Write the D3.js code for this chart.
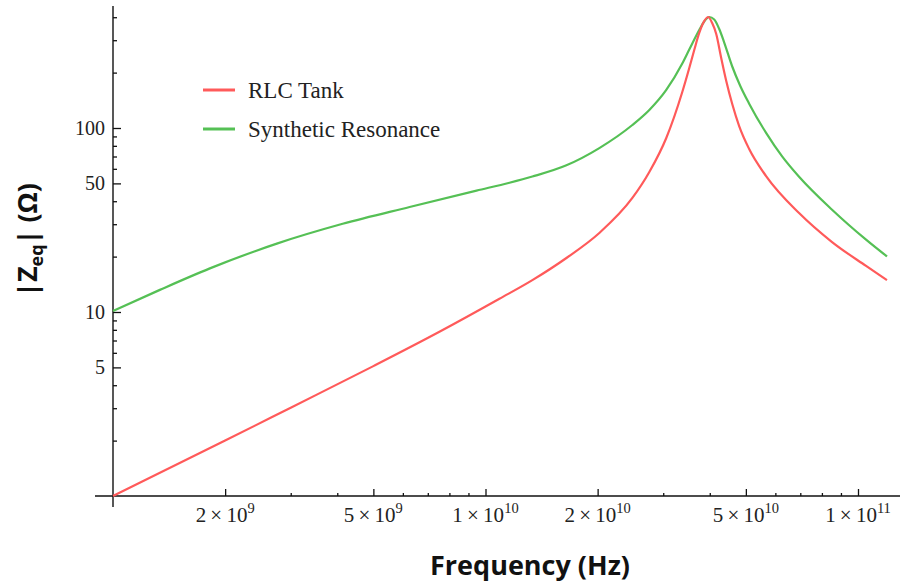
<!DOCTYPE html>
<html><head><meta charset="utf-8">
<script src="https://cdn.jsdelivr.net/npm/d3@7/dist/d3.min.js"></script>
<style>body{margin:0;background:#fff} svg{display:block}</style>
</head><body>
<svg id="c" width="902" height="584"></svg>
<script>
// ---- data (frequency in Hz, |Zeq| in ohms) ----
const freqRLC = [1.0e9,2.0e9,3.0e9,5.0e9,7.5e9,10.9e9,13.36e9,16.49e9,20.21e9,24.79e9,27.53e9,30.57e9,33.75e9,35.24e9,36.34e9,37.48e9,38.41e9,39.6e9,40.6e9,41.63e9,42.93e9,44.29e9,45.96e9,47.97e9,51.03e9,56.66e9,69.47e9,85.19e9,105.1e9,119.6e9];
const zRLC    = [1.0,2.0,3.02,5.08,7.78,11.8,14.9,19.66,26.88,41.66,57.67,88.25,156.9,211.9,265.4,328.4,372.1,401,372.1,324.3,240.1,180.1,135.0,102.5,76.9,54.8,34.5,24.0,17.8,14.9];
const freqSyn = [1.0e9,1.336e9,1.82e9,2.753e9,4.136e9,6.256e9,9.46e9,11.6e9,13.36e9,16.49e9,20.21e9,24.79e9,27.53e9,30.57e9,33.75e9,35.24e9,37.48e9,38.65e9,39.86e9,41.12e9,42.41e9,43.74e9,45.96e9,48.27e9,51.03e9,56.66e9,62.56e9,69.47e9,85.19e9,105.1e9,119.6e9];
const zSyn    = [10.13,13.19,17.26,23.53,30.15,37.22,45.69,50.43,54.49,62.71,77.77,103.8,125.3,161.1,224.2,267.1,340.9,379.2,401.1,388.8,345.1,291.5,215.9,169.8,135.6,94.06,70.09,54.30,35.94,24.71,20.03];
const seriesNames = ["RLC Tank","Synthetic Resonance"];
const seriesColors = ["#ff5a5a","#55c055"];

const xMajor = [2e9,5e9,1e10,2e10,5e10,1e11];
const xMantissa = ["2","5","1","2","5","1"];
const xExponent = ["9","9","10","10","10","11"];
const xMinor = [3e9,4e9,6e9,7e9,8e9,9e9,3e10,4e10,6e10,7e10,8e10,9e10];
const yMajor = [5,10,50,100];
const yMajorLabels = ["5","10","50","100"];
const yMinor = [2,3,4,6,7,8,9,20,30,40,60,70,80,90,200,300,400];

const svg = d3.select("#c");
const x = d3.scaleLog().domain([1e9,1e11]).range([113,858]);
const y = d3.scaleLog().domain([1,100]).range([496,128]);
const serif = "'Liberation Serif','Times New Roman',serif";

// axes lines (Mathematica style, crossing with overhang)
svg.append("line").attr("x1",x(1e9)-18).attr("x2",900).attr("y1",y(1)).attr("y2",y(1))
  .attr("stroke","#111").attr("stroke-width",1.4);
svg.append("line").attr("x1",x(1e9)).attr("x2",x(1e9)).attr("y1",y(1)+11).attr("y2",6)
  .attr("stroke","#111").attr("stroke-width",1.4);

// x ticks
const xAx = d3.axisBottom(x).tickValues(xMajor.concat(xMinor)).tickSizeInner(-7).tickSizeOuter(0).tickFormat("");
const gx = svg.append("g").attr("transform",`translate(0,${y(1)})`).call(xAx);
gx.select(".domain").remove();
gx.selectAll(".tick line").attr("stroke","#111").attr("stroke-width",1.3)
  .attr("y2", d => xMajor.includes(d) ? -7 : -3);
gx.selectAll(".tick text").remove();
xMajor.forEach((v,i) => {
  const t = svg.append("text").attr("x",x(v)).attr("y",522).attr("text-anchor","middle")
    .attr("font-family",serif).attr("font-size",21).attr("fill","#222");
  t.append("tspan").text(xMantissa[i] + "\u2009×\u200910");
  t.append("tspan").attr("dy",-9).attr("font-size",14.5).text(xExponent[i]);
});

// y ticks
const yAx = d3.axisLeft(y).tickValues(yMajor.concat(yMinor)).tickSizeInner(-8).tickSizeOuter(0).tickFormat("");
const gy = svg.append("g").attr("transform",`translate(${x(1e9)},0)`).call(yAx);
gy.select(".domain").remove();
gy.selectAll(".tick line").attr("stroke","#111").attr("stroke-width",1.3)
  .attr("x2", d => yMajor.includes(d) ? 8 : 4);
gy.selectAll(".tick text").remove();
yMajor.forEach((v,i) => {
  svg.append("text").attr("x",105).attr("y",y(v)).attr("dy","0.35em").attr("text-anchor","end")
    .attr("font-family",serif).attr("font-size",20).attr("fill","#222")
    .text(yMajorLabels[i]);
});

// curves
const line = d3.line().x(d => x(d[0])).y(d => y(d[1])).curve(d3.curveMonotoneX);
const dataRLC = freqRLC.map((f,i) => [f, zRLC[i]]);
const dataSyn = freqSyn.map((f,i) => [f, zSyn[i]]);
svg.append("path").attr("d",line(dataSyn)).attr("fill","none").attr("stroke",seriesColors[1]).attr("stroke-width",2.2);
svg.append("path").attr("d",line(dataRLC)).attr("fill","none").attr("stroke",seriesColors[0]).attr("stroke-width",2.2);

// legend
const legY = [90,129];
seriesNames.forEach((n,i) => {
  svg.append("line").attr("x1",203).attr("x2",235).attr("y1",legY[i]).attr("y2",legY[i])
    .attr("stroke",seriesColors[i]).attr("stroke-width",3);
  svg.append("text").attr("x",248).attr("y",legY[i]).attr("dy","0.33em")
    .attr("font-family",serif).attr("font-size",23).attr("fill","#222")
    .text(n);
});

// axis titles
svg.append("text").attr("x",530).attr("y",575).attr("text-anchor","middle")
  .attr("font-family","'Open Sans',sans-serif").attr("font-weight","bold").attr("font-size",27).attr("fill","#111")
  .text("Frequency (Hz)");
const yl = svg.append("text").attr("transform","translate(37,240) rotate(-90)").attr("text-anchor","middle")
  .attr("font-family","'Open Sans',sans-serif").attr("font-weight","bold").attr("font-size",27).attr("fill","#111");
yl.append("tspan").text("|Z");
yl.append("tspan").attr("font-size",18).attr("dy",6).text("eq");
yl.append("tspan").attr("dy",-6).text("| (Ω)");
</script>
</body></html>
